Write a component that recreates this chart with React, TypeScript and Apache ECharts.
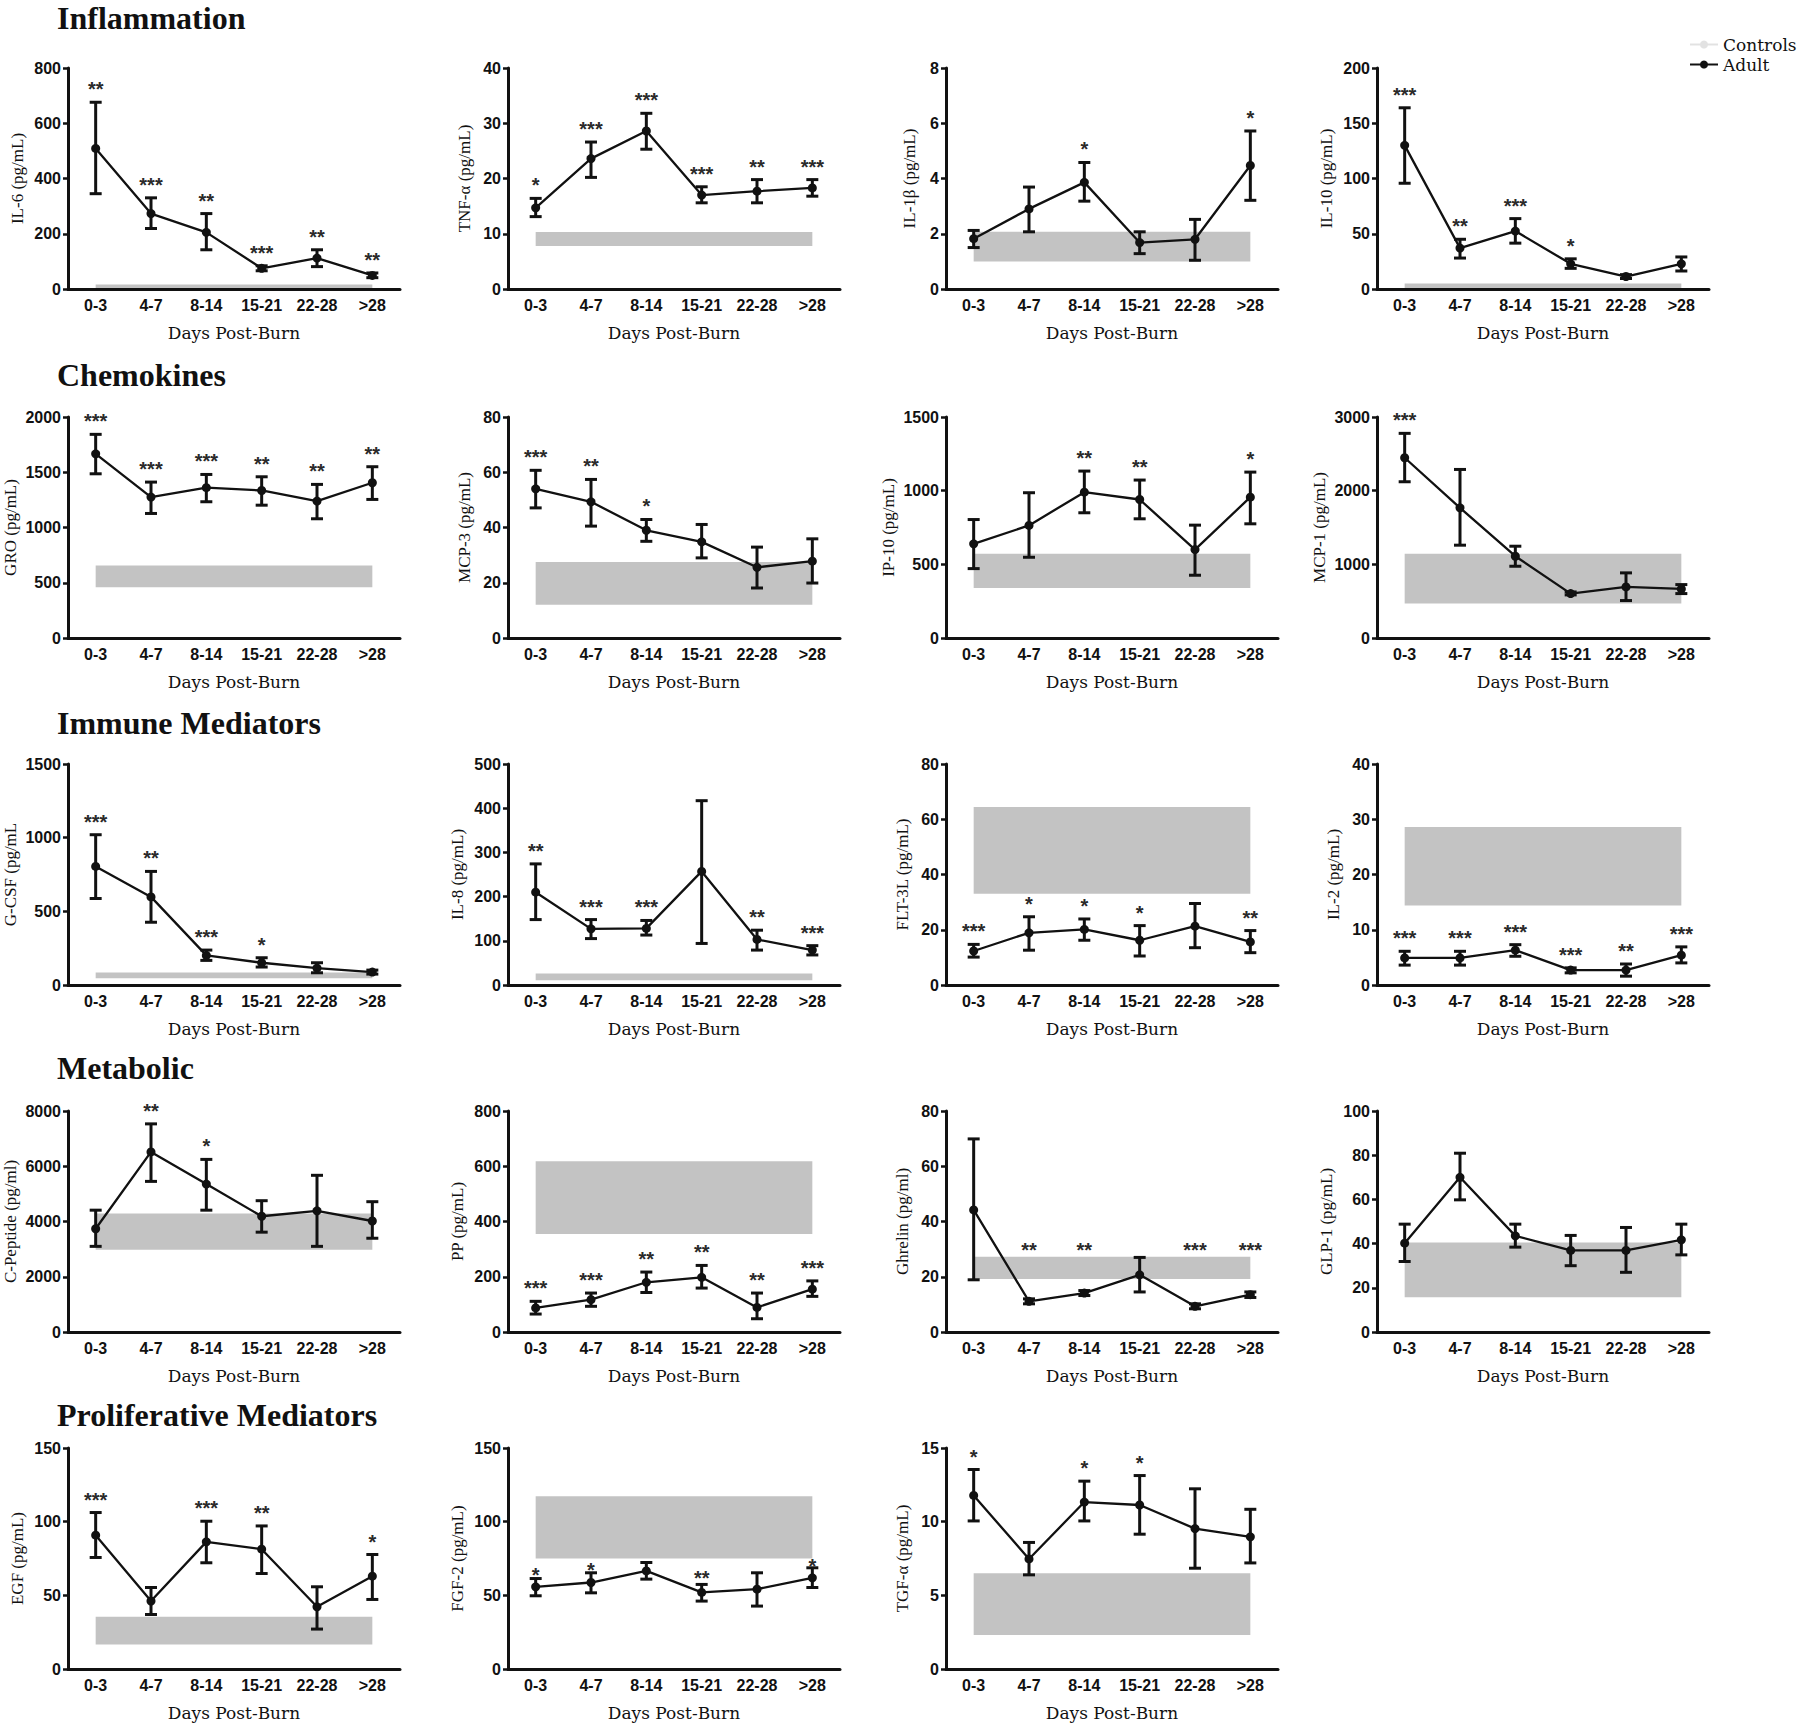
import React, { useEffect, useRef } from "react";
import * as echarts from "echarts";

// ---------------- DATA ----------------
const CATEGORIES = ["0-3", "4-7", "8-14", "15-21", "22-28", ">28"];
const SECTIONS = ["Inflammation", "Chemokines", "Immune Mediators", "Metabolic", "Proliferative Mediators"];
const LEGEND_NAMES = ["Controls", "Adult"];
const X_NAME = "Days Post-Burn";

// Inflammation
const IL6_MEAN = [509, 273, 205, 75, 112, 49];
const IL6_UPPER = [676, 330, 273, 84, 142, 58];
const IL6_LOWER = [345, 219, 142, 66, 81, 41];
const IL6_CONTROL = [4, 16];
const IL6_SIG = ["**", "***", "**", "***", "**", "**"];

const TNFA_MEAN = [14.7, 23.6, 28.6, 17.0, 17.7, 18.3];
const TNFA_UPPER = [16.4, 26.6, 31.8, 18.5, 19.8, 19.8];
const TNFA_LOWER = [13.1, 20.2, 25.3, 15.6, 15.6, 16.8];
const TNFA_CONTROL = [7.8, 10.3];
const TNFA_SIG = ["*", "***", "***", "***", "**", "***"];

const IL1B_MEAN = [1.82, 2.9, 3.86, 1.68, 1.8, 4.47];
const IL1B_UPPER = [2.12, 3.69, 4.58, 2.07, 2.52, 5.72];
const IL1B_LOWER = [1.5, 2.07, 3.18, 1.28, 1.04, 3.21];
const IL1B_CONTROL = [1.0, 2.07];
const IL1B_SIG = ["", "", "*", "", "", "*"];

const IL10_MEAN = [130, 37, 52.4, 22.8, 11.3, 22.8];
const IL10_UPPER = [164, 45, 63.7, 27.3, 13, 29];
const IL10_LOWER = [95.7, 28, 41.5, 18.7, 9.5, 16.3];
const IL10_CONTROL = [1, 5];
const IL10_SIG = ["***", "**", "***", "*", "", ""];

// Chemokines
const GRO_MEAN = [1667, 1275, 1360, 1335, 1239, 1405];
const GRO_UPPER = [1843, 1411, 1480, 1459, 1390, 1550];
const GRO_LOWER = [1486, 1127, 1233, 1202, 1079, 1254];
const GRO_CONTROL = [460, 655];
const GRO_SIG = ["***", "***", "***", "**", "**", "**"];

const MCP3_MEAN = [54, 49.3, 39, 34.8, 25.6, 27.8];
const MCP3_UPPER = [60.7, 57.4, 42.9, 41.1, 32.9, 35.9];
const MCP3_LOWER = [47.1, 40.5, 35, 29, 18.1, 19.9];
const MCP3_CONTROL = [12, 27.5];
const MCP3_SIG = ["***", "**", "*", "", "", ""];

const IP10_MEAN = [639, 764, 990, 940, 600, 956];
const IP10_UPPER = [804, 986, 1133, 1072, 766, 1126];
const IP10_LOWER = [471, 548, 850, 809, 426, 775];
const IP10_CONTROL = [340, 572];
const IP10_SIG = ["", "", "**", "**", "", "*"];

const MCP1_MEAN = [2447, 1767, 1110, 603, 693, 666];
const MCP1_UPPER = [2778, 2288, 1246, 625, 884, 725];
const MCP1_LOWER = [2121, 1260, 974, 585, 508, 603];
const MCP1_CONTROL = [467, 1142];
const MCP1_SIG = ["***", "", "", "", "", ""];

// Immune mediators
const GCSF_MEAN = [805, 598, 201, 151, 115, 88];
const GCSF_UPPER = [1020, 771, 237, 185, 151, 101];
const GCSF_LOWER = [587, 426, 167, 122, 83, 74];
const GCSF_CONTROL = [45, 85];
const GCSF_SIG = ["***", "**", "***", "*", "", ""];

const IL8_MEAN = [210, 127, 128, 257, 103, 79];
const IL8_UPPER = [274, 148, 146, 417, 124, 89];
const IL8_LOWER = [148, 105, 113, 94, 79, 68];
const IL8_CONTROL = [11, 26];
const IL8_SIG = ["**", "***", "***", "", "**", "***"];

const FLT3L_MEAN = [12.3, 18.9, 20.1, 16.2, 21.3, 15.6];
const FLT3L_UPPER = [14.7, 24.7, 23.9, 21.5, 29.5, 19.7];
const FLT3L_LOWER = [10.1, 12.6, 16.2, 10.5, 13.5, 11.7];
const FLT3L_CONTROL = [33, 64.4];
const FLT3L_SIG = ["***", "*", "*", "*", "", "**"];

const IL2_MEAN = [4.9, 4.9, 6.3, 2.7, 2.7, 5.4];
const IL2_UPPER = [6.1, 6.1, 7.3, 3.1, 3.8, 6.9];
const IL2_LOWER = [3.6, 3.6, 5.2, 2.2, 1.6, 4.0];
const IL2_CONTROL = [14.4, 28.6];
const IL2_SIG = ["***", "***", "***", "***", "**", "***"];

// Metabolic
const CPEP_MEAN = [3737, 6518, 5354, 4190, 4386, 4018];
const CPEP_UPPER = [4410, 7534, 6248, 4753, 5672, 4717];
const CPEP_LOWER = [3100, 5452, 4410, 3614, 3100, 3394];
const CPEP_CONTROL = [2977, 4290];
const CPEP_SIG = ["", "**", "*", "", "", ""];

const PP_MEAN = [87, 117, 180, 198, 89, 155];
const PP_UPPER = [111, 141, 217, 241, 141, 185];
const PP_LOWER = [65, 93, 143, 159, 48, 129];
const PP_CONTROL = [355, 618];
const PP_SIG = ["***", "***", "**", "**", "**", "***"];

const GHRELIN_MEAN = [44.2, 11.1, 14.1, 20.7, 9.3, 13.5];
const GHRELIN_UPPER = [69.9, 12.0, 15.0, 27.0, 10.2, 14.5];
const GHRELIN_LOWER = [18.9, 10.2, 13.2, 14.5, 8.4, 12.5];
const GHRELIN_CONTROL = [19.2, 27.2];
const GHRELIN_SIG = ["", "**", "**", "", "***", "***"];
const GHRELIN_SIG_AT = [null, 31, 31, null, 31, 31];

const GLP1_MEAN = [40.2, 70, 43.5, 36.9, 36.9, 41.7];
const GLP1_UPPER = [48.8, 80.9, 48.8, 43.7, 47.3, 48.8];
const GLP1_LOWER = [31.9, 59.8, 38.4, 30, 27, 34.9];
const GLP1_CONTROL = [15.7, 40.5];
const GLP1_SIG = ["", "", "", "", "", ""];

// Proliferative mediators
const EGF_MEAN = [90.8, 46.1, 86.3, 81.3, 42.2, 63];
const EGF_UPPER = [106.2, 55.3, 100.3, 97.1, 55.8, 77.7];
const EGF_LOWER = [75.7, 37, 72.1, 64.8, 27.1, 47.2];
const EGF_CONTROL = [16.7, 35.5];
const EGF_SIG = ["***", "", "***", "**", "", "*"];

const FGF2_MEAN = [55.8, 58.7, 66.6, 52, 54.2, 61.9];
const FGF2_UPPER = [61.4, 65.3, 72.3, 57.4, 65.3, 68.7];
const FGF2_LOWER = [49.7, 51.7, 61, 46.1, 42.7, 55.3];
const FGF2_CONTROL = [75, 117.2];
const FGF2_SIG = ["*", "*", "", "**", "", "*"];
const FGF2_SIG_AT = [66.4, 69.8, null, 64.4, null, 72.7];

const TGFA_MEAN = [11.78, 7.47, 11.33, 11.13, 9.53, 8.97];
const TGFA_UPPER = [13.54, 8.59, 12.75, 13.13, 12.23, 10.84];
const TGFA_LOWER = [10.05, 6.39, 10.05, 9.15, 6.84, 7.2];
const TGFA_CONTROL = [2.3, 6.5];
const TGFA_SIG = ["*", "", "*", "*", "", ""];

const Y_NAMES = [
  "IL-6 (pg/mL)", "TNF-α (pg/mL)", "IL-1β (pg/mL)", "IL-10 (pg/mL)",
  "GRO (pg/mL)", "MCP-3 (pg/mL)", "IP-10 (pg/mL)", "MCP-1 (pg/mL)",
  "G-CSF (pg/mL", "IL-8 (pg/mL)", "FLT-3L (pg/mL)", "IL-2 (pg/mL)",
  "C-Peptide (pg/ml)", "PP (pg/mL)", "Ghrelin (pg/ml)", "GLP-1 (pg/mL)",
  "EGF (pg/mL)", "FGF-2 (pg/mL)", "TGF-α (pg/mL)",
];
const Y_MAX = [800, 40, 8, 200, 2000, 80, 1500, 3000, 1500, 500, 80, 40, 8000, 800, 80, 100, 150, 150, 15];
const Y_STEP = [200, 10, 2, 50, 500, 20, 500, 1000, 500, 100, 20, 10, 2000, 200, 20, 20, 50, 50, 5];

const MEANS = [IL6_MEAN, TNFA_MEAN, IL1B_MEAN, IL10_MEAN, GRO_MEAN, MCP3_MEAN, IP10_MEAN, MCP1_MEAN,
  GCSF_MEAN, IL8_MEAN, FLT3L_MEAN, IL2_MEAN, CPEP_MEAN, PP_MEAN, GHRELIN_MEAN, GLP1_MEAN, EGF_MEAN, FGF2_MEAN, TGFA_MEAN];
const UPPERS = [IL6_UPPER, TNFA_UPPER, IL1B_UPPER, IL10_UPPER, GRO_UPPER, MCP3_UPPER, IP10_UPPER, MCP1_UPPER,
  GCSF_UPPER, IL8_UPPER, FLT3L_UPPER, IL2_UPPER, CPEP_UPPER, PP_UPPER, GHRELIN_UPPER, GLP1_UPPER, EGF_UPPER, FGF2_UPPER, TGFA_UPPER];
const LOWERS = [IL6_LOWER, TNFA_LOWER, IL1B_LOWER, IL10_LOWER, GRO_LOWER, MCP3_LOWER, IP10_LOWER, MCP1_LOWER,
  GCSF_LOWER, IL8_LOWER, FLT3L_LOWER, IL2_LOWER, CPEP_LOWER, PP_LOWER, GHRELIN_LOWER, GLP1_LOWER, EGF_LOWER, FGF2_LOWER, TGFA_LOWER];
const CONTROLS = [IL6_CONTROL, TNFA_CONTROL, IL1B_CONTROL, IL10_CONTROL, GRO_CONTROL, MCP3_CONTROL, IP10_CONTROL, MCP1_CONTROL,
  GCSF_CONTROL, IL8_CONTROL, FLT3L_CONTROL, IL2_CONTROL, CPEP_CONTROL, PP_CONTROL, GHRELIN_CONTROL, GLP1_CONTROL, EGF_CONTROL, FGF2_CONTROL, TGFA_CONTROL];
const SIGS = [IL6_SIG, TNFA_SIG, IL1B_SIG, IL10_SIG, GRO_SIG, MCP3_SIG, IP10_SIG, MCP1_SIG,
  GCSF_SIG, IL8_SIG, FLT3L_SIG, IL2_SIG, CPEP_SIG, PP_SIG, GHRELIN_SIG, GLP1_SIG, EGF_SIG, FGF2_SIG, TGFA_SIG];
const SIG_AT: Record<number, (number | null)[]> = { 14: GHRELIN_SIG_AT, 17: FGF2_SIG_AT };

// ---------------- LAYOUT / STYLE ----------------
const COL_LEFT = [68, 508, 946, 1377];
const ROW_TOP = [68, 417, 764, 1111, 1448];
const SECTION_Y = [18, 375, 723, 1068, 1415];
const GRID_W = 332;
const GRID_H = 221;
const INK = "#111111";
const BAND = "#c3c3c3";
const TICK_FONT = { fontFamily: "Liberation Sans", fontWeight: "bold" as const, fontSize: 16, color: INK };

function buildOption() {
  const grids: any[] = [];
  const xAxes: any[] = [];
  const yAxes: any[] = [];
  const series: any[] = [
    {
      type: "line", name: "Controls", xAxisIndex: 0, yAxisIndex: 0, data: [],
      symbol: "none", itemStyle: { color: "#e2e2e2" }, lineStyle: { color: "#e2e2e2", width: 4 },
    },
  ];

  Y_NAMES.forEach((yName, k) => {
    const row = Math.floor(k / 4);
    const col = k % 4;
    grids.push({ left: COL_LEFT[col], top: ROW_TOP[row], width: GRID_W, height: GRID_H });
    xAxes.push({
      type: "category", gridIndex: k, data: CATEGORIES, boundaryGap: true,
      axisLine: { lineStyle: { color: INK, width: 3 } },
      axisTick: { alignWithLabel: true, length: 5, lineStyle: { color: INK, width: 2.5 } },
      axisLabel: { ...TICK_FONT, margin: 8, interval: 0 },
      name: X_NAME, nameLocation: "middle", nameGap: 35,
      nameTextStyle: { fontFamily: "DejaVu Serif", fontSize: 17, color: INK },
    });
    const digits = String(Y_MAX[k]).length;
    yAxes.push({
      type: "value", gridIndex: k, min: 0, max: Y_MAX[k], interval: Y_STEP[k],
      splitLine: { show: false },
      axisLine: { show: true, lineStyle: { color: INK, width: 3 } },
      axisTick: { show: true, length: 5, lineStyle: { color: INK, width: 2.5 } },
      axisLabel: { ...TICK_FONT, margin: 7, formatter: (v: number) => String(v) },
      name: yName, nameLocation: "middle", nameRotate: 90, nameGap: 21 + 7 * digits,
      nameTextStyle: { fontFamily: "Liberation Serif", fontSize: 17, color: INK },
    });

    const ctrl = CONTROLS[k];
    series.push({
      type: "custom", name: "ControlBand", xAxisIndex: k, yAxisIndex: k, z: 1, silent: true,
      data: [[0, CATEGORIES.length - 1, ctrl[0], ctrl[1]]],
      encode: { x: [0, 1], y: [2, 3] },
      renderItem: (_p: any, api: any) => {
        const a = api.coord([api.value(0), api.value(3)]);
        const b = api.coord([api.value(1), api.value(2)]);
        return { type: "rect", shape: { x: a[0], y: a[1], width: b[0] - a[0], height: b[1] - a[1] }, style: { fill: BAND } };
      },
    });

    const sig = SIGS[k];
    const sigAt = SIG_AT[k];
    series.push({
      type: "custom", name: "ErrorBars", xAxisIndex: k, yAxisIndex: k, z: 3, silent: true,
      data: CATEGORIES.map((_c, i) => [i, LOWERS[k][i], UPPERS[k][i]]),
      encode: { x: 0, y: [1, 2] },
      renderItem: (params: any, api: any) => {
        const i = api.value(0);
        const hi = api.coord([i, api.value(2)]);
        const lo = api.coord([i, api.value(1)]);
        const hw = 6;
        const st = { stroke: INK, lineWidth: 3 };
        const children: any[] = [
          { type: "line", shape: { x1: hi[0], y1: hi[1], x2: lo[0], y2: lo[1] }, style: st },
          { type: "line", shape: { x1: hi[0] - hw, y1: hi[1], x2: hi[0] + hw, y2: hi[1] }, style: st },
          { type: "line", shape: { x1: lo[0] - hw, y1: lo[1], x2: lo[0] + hw, y2: lo[1] }, style: st },
        ];
        const s = sig[params.dataIndex];
        if (s) {
          let cy = hi[1] - 17;
          if (sigAt && sigAt[params.dataIndex] != null) cy = api.coord([i, sigAt[params.dataIndex]])[1];
          children.push({
            type: "text", x: hi[0], y: cy + 4,
            style: { text: s, fill: "#2a2a2a", font: 'bold 20px "Liberation Sans"', align: "center", verticalAlign: "middle" },
          });
        }
        return { type: "group", children };
      },
    });

    series.push({
      type: "line", name: "Adult", xAxisIndex: k, yAxisIndex: k, z: 4, silent: true,
      data: MEANS[k], symbol: "circle", symbolSize: 9,
      itemStyle: { color: INK }, lineStyle: { color: INK, width: 2.3 },
    });
  });

  const graphic = SECTIONS.map((t, r) => ({
    type: "text", x: 57, y: SECTION_Y[r],
    style: { text: t, fill: INK, font: 'bold 32px "Liberation Serif"', align: "left", verticalAlign: "middle" },
  }));

  return {
    animation: false,
    backgroundColor: "#ffffff",
    grid: grids,
    xAxis: xAxes,
    yAxis: yAxes,
    series,
    graphic,
    legend: {
      data: LEGEND_NAMES, orient: "vertical", left: 1684, top: 31, itemWidth: 28, itemHeight: 10, itemGap: 3,
      selectedMode: false, textStyle: { fontFamily: "DejaVu Serif", fontSize: 17, color: INK },
    },
  };
}

export default function App() {
  const ref = useRef<HTMLDivElement>(null);
  useEffect(() => {
    document.body.style.margin = "0";
    const chart = echarts.init(ref.current!, null, { renderer: "svg" });
    chart.setOption(buildOption() as any);
    return () => chart.dispose();
  }, []);
  return <div ref={ref} style={{ width: 1800, height: 1725 }} />;
}
